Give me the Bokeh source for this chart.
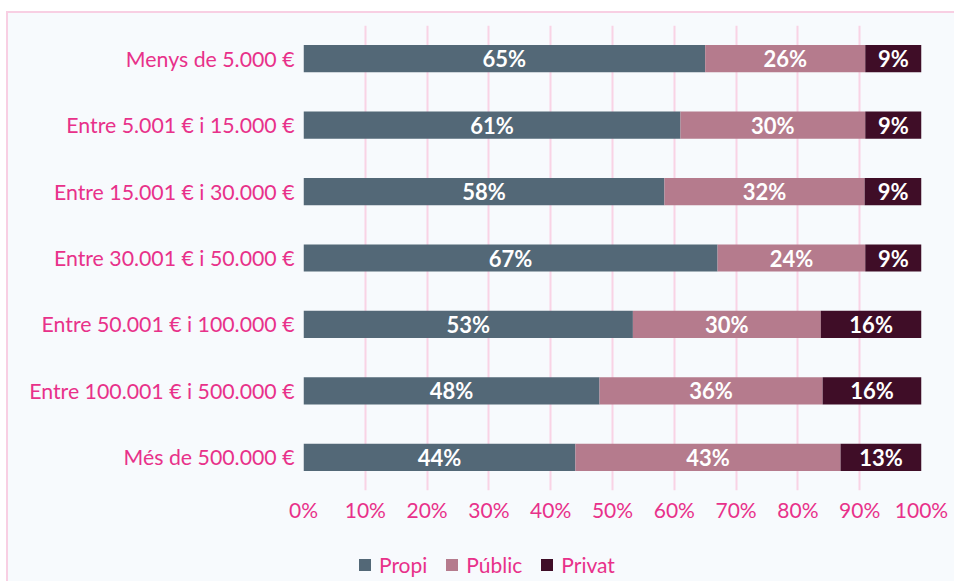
from bokeh.plotting import figure
from bokeh.layouts import column
from bokeh.models import ColumnDataSource, FactorRange, Range1d, Legend, LegendItem, PrintfTickFormatter, FixedTicker
from bokeh.core.properties import value
from bokeh.embed import file_html
from bokeh.resources import INLINE

categories = [
    "Menys de 5.000 €",
    "Entre 5.001 € i 15.000 €",
    "Entre 15.001 € i 30.000 €",
    "Entre 30.001 € i 50.000 €",
    "Entre 50.001 € i 100.000 €",
    "Entre 100.001 € i 500.000 €",
    "Més de 500.000 €",
]
propi = [65.0, 61.0, 58.4, 67.0, 53.3, 47.9, 44.0]
public = [25.9, 29.9, 32.4, 23.9, 30.4, 36.1, 42.9]
privat = [9.1, 9.1, 9.2, 9.1, 16.3, 16.0, 13.1]
series_names = ["Propi", "Públic", "Privat"]
colors = ["#536877", "#b57b8d", "#3f0d27"]
x_ticks = [0, 10, 20, 30, 40, 50, 60, 70, 80, 90, 100]

PINK = "#e8318a"
FONT = "Lato"
BG = "#f7fafd"

p = figure(
    width=946, height=527,
    y_range=FactorRange(factors=list(reversed(categories)), range_padding=0),
    x_range=Range1d(0, 100),
    output_backend="svg", toolbar_location=None,
    min_border_left=295, min_border_right=33, min_border_top=12, min_border_bottom=50,
)
p.y_range.factor_padding = 0
p.background_fill_color = BG
p.border_fill_color = BG
p.outline_line_color = None

src = ColumnDataSource(dict(cat=categories, Propi=propi, Públic=public, Privat=privat))
renderers = p.hbar_stack(series_names, y="cat", height=0.41, color=colors, source=src, line_color=None)

# labels
lx, ly, lt = [], [], []
for i, c in enumerate(categories):
    start = 0.0
    for vals in (propi, public, privat):
        v = vals[i]
        lx.append(start + v / 2)
        ly.append(c)
        lt.append(f"{round(v):d}%")
        start += v
p.text(x=lx, y=ly, text=lt, text_color="white", text_font=value(FONT), text_font_style="bold",
       text_font_size="22px", text_align="center", text_baseline="middle")

# axes
p.xaxis.ticker = FixedTicker(ticks=x_ticks)
p.xaxis.formatter = PrintfTickFormatter(format="%d%%")
for ax in (p.xaxis[0], p.yaxis[0]):
    ax.axis_line_color = None
    ax.major_tick_line_color = None
    ax.minor_tick_line_color = None
    ax.major_label_text_color = PINK
    ax.major_label_text_font = FONT
    ax.major_label_text_font_size = "21px"
p.yaxis.major_label_text_font_size = "21.3px"
p.xaxis.major_label_standoff = 0
p.yaxis.major_label_standoff = 3

p.xgrid.grid_line_color = "#f9d3e5"
p.xgrid.grid_line_width = 2
p.ygrid.grid_line_color = None

# legend figure
nan = float("nan")
p2 = figure(
    width=946, height=41, x_range=Range1d(0, 1), y_range=Range1d(0, 1),
    output_backend="svg", toolbar_location=None,
    min_border_left=0, min_border_right=0, min_border_top=0, min_border_bottom=0,
)
p2.axis.visible = False
p2.grid.grid_line_color = None
p2.outline_line_color = None
p2.background_fill_color = BG
p2.border_fill_color = BG
leg_r = [p2.hbar(y=[nan], right=[nan], height=1, color=c, line_color=None) for c in colors]
legend = Legend(
    items=[LegendItem(label=n, renderers=[r]) for n, r in zip(series_names, leg_r)],
    orientation="horizontal", location=(54, 4),
    glyph_width=15, glyph_height=15, label_standoff=7, spacing=17,
    padding=0, margin=0, border_line_color=None, background_fill_alpha=0,
    label_text_color=PINK, label_text_font=FONT, label_text_font_size="21px",
)
p2.add_layout(legend, "center")

layout = column(p, p2, spacing=0, margin=(11, 0, 0, 6),
                styles={"border-top": "2px solid #f8cfe3", "border-left": "2px solid #f8cfe3",
                        "background-color": BG})

open("out.html", "w").write(file_html(layout, INLINE))
